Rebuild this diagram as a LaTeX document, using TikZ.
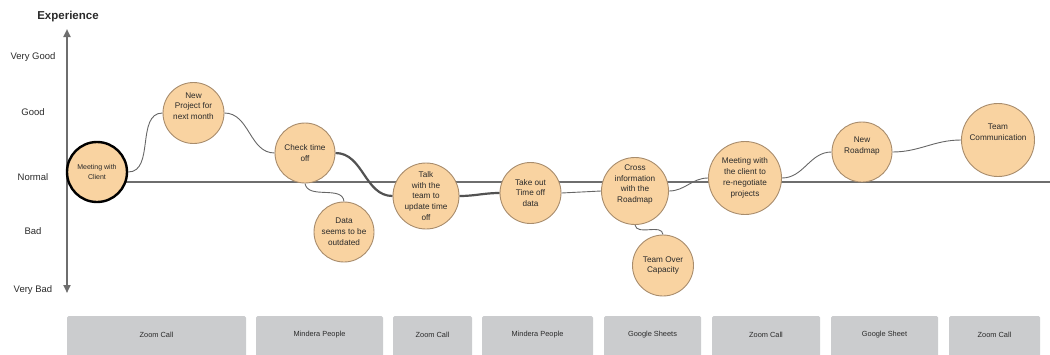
\documentclass[tikz,border=0pt]{standalone}
\usepackage{fontspec}
\setmainfont{Liberation Sans}
\usetikzlibrary{arrows.meta,backgrounds}
\definecolor{bubblefill}{HTML}{F9D3A1}
\definecolor{bubbleline}{HTML}{A88C6C}
\definecolor{inktext}{HTML}{2A2A2A}
\definecolor{axisgray}{HTML}{6E6E6E}
\definecolor{linkgray}{HTML}{666666}
\definecolor{toolgray}{HTML}{CBCCCE}
\tikzset{
  bubble/.style={circle, draw=bubbleline, line width=0.9pt, fill=bubblefill,
    inner sep=0pt, text=inktext, align=center,
    font=\fontsize{8.2}{10.8}\selectfont},
  bubbletext/.style={text=inktext, align=center, inner sep=0pt,
    font=\fontsize{8.2}{10.8}\selectfont},
  levellabel/.style={text=inktext, font=\fontsize{9.5}{11}\selectfont, anchor=center},
  link/.style={draw=linkgray, line width=0.9pt},
  strong link/.style={draw=linkgray!80!black, line width=2.2pt},
  toolbox/.style={fill=toolgray, rounded corners=1.5pt, draw=none},
  tooltext/.style={text=inktext, font=\fontsize{7.4}{8}\selectfont, inner sep=0pt},
}
\begin{document}
\begin{tikzpicture}[x=1pt,y=-1pt]
\useasboundingbox (0,0) rectangle (1050,354);

% axis title and experience levels
\node[font=\bfseries\fontsize{11.5}{13}\selectfont, text=inktext] (title) at (68,17) {Experience};
\node[levellabel] (vgood) at (33,57) {Very Good};
\node[levellabel] (good) at (33,112) {Good};
\node[levellabel] (normal) at (33,177) {Normal};
\node[levellabel] (bad) at (33,231) {Bad};
\node[levellabel] (vbad) at (33,290) {Very Bad};

% vertical experience axis
\coordinate (axtop) at (67,29);
\coordinate (axbot) at (67,293);
\draw[axisgray, line width=2pt, {Triangle[width=7pt,length=8pt]}-{Triangle[width=7pt,length=8pt]}] (axtop) -- (axbot);

% journey steps
\node[bubble, draw=black, line width=2.4pt, minimum size=60pt, font=\fontsize{7}{9.5}\selectfont] (meet) at (97,172) {Meeting with\\Client};
\node[bubble, minimum size=61pt] (newp) at (193.5,113) {New\\Project for\\next month\\[3pt]};
\node[bubble, minimum size=60pt] (check) at (305,153) {Check time\\off};
\node[bubble, minimum size=60pt] (data) at (344,232) {Data\\seems to be\\outdated};
\node[bubble, minimum size=66pt] (talk) at (426,196) {Talk\\with the\\team to\\update time\\off};
\node[bubble, minimum size=61pt] (take) at (530.5,193) {Take out\\Time off\\data};
\node[bubble, minimum size=67pt] (cross) at (635,191) {Cross\\information\\with the\\Roadmap\\[4pt]};
\node[bubble, minimum size=61pt] (over) at (663,265.5) {Team Over\\Capacity};
\node[bubble, minimum size=73pt] (meet2) at (745,178) {Meeting with\\the client to\\re-negotiate\\projects};
\node[bubble, minimum size=60pt] (road) at (862,152) {New\\Roadmap\\[3pt]};
\node[bubble, minimum size=73pt] (comm) at (998,140) {};
\node[bubbletext] (commtext) at (998,132) {Team\\Communication};

% tools used at each stage
\foreach \name/\xa/\xb/\txt in {
  t1/67/246/Zoom Call, t2/256/383/Mindera People, t3/393/472/Zoom Call,
  t4/482/593/Mindera People, t5/604/701/Google Sheets, t6/712/820/Zoom Call,
  t7/831/938/Google Sheet, t8/949/1040/Zoom Call}{
  \path[toolbox] (\xa,316) rectangle (\xb,358);
  \node[tooltext] (\name) at ({(\xa+\xb)/2},335) {\txt};
}

% baseline and connectors behind the steps
\coordinate (normend) at (1050,182);
\begin{scope}[on background layer]
  \draw[axisgray, line width=1.2pt] (meet.center |- normend) -- (normend);
  \draw[link] (meet.east) to[out=0,in=180] (newp.west);
  \draw[link] (newp.east) to[out=0,in=180] (check.west);
  \draw[strong link] (check.east) to[out=0,in=180] (talk.west);
  \draw[link] (check.south) to[out=-80,in=95] (data.north);
  \draw[strong link] (talk.east) to[out=0,in=180] (take.west);
  \draw[link] (take.east) -- (cross.west);
  \draw[link] (cross.south) to[out=-80,in=95] (over.north);
  \draw[link] (cross.east) to[out=0,in=180] (meet2.west);
  \draw[link] (meet2.east) to[out=0,in=180] (road.west);
  \draw[link] (road.east) to[out=0,in=180] (comm.west);
\end{scope}
\end{tikzpicture}
\end{document}
